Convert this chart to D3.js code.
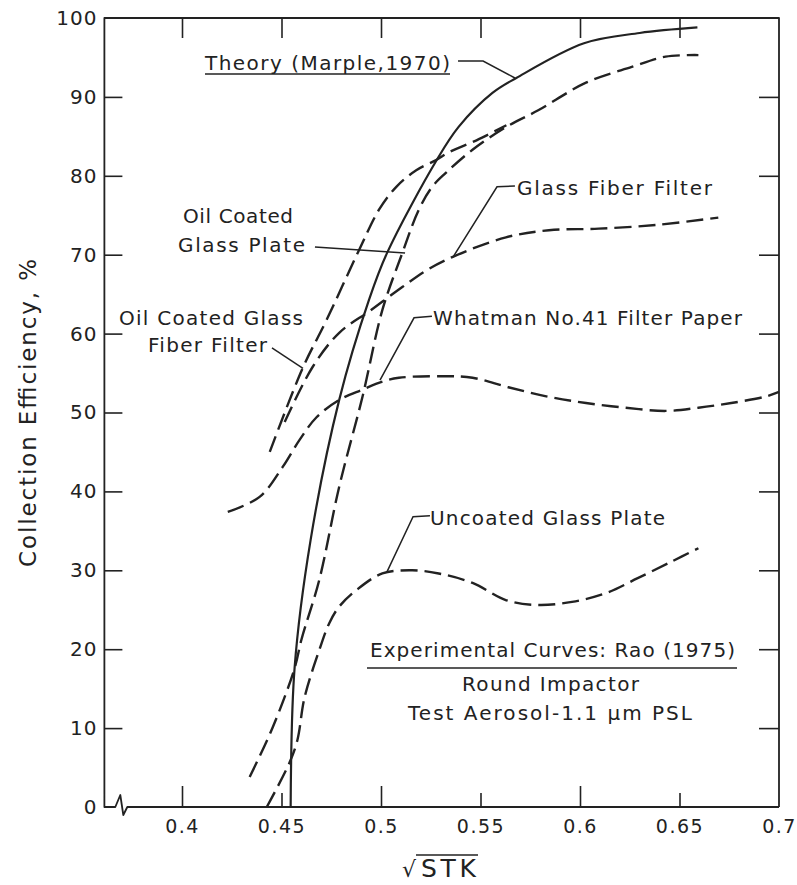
<!DOCTYPE html>
<html>
<head>
<meta charset="utf-8">
<script src="https://cdn.jsdelivr.net/npm/d3@7"></script>
<style>
  body { margin: 0; background: #fff; }
  svg { display: block; }
  text { font-family: "DejaVu Sans", sans-serif; fill: #222; }
</style>
</head>
<body>
<svg width="797" height="885"></svg>
<script>
// tick values
const X_TICKS = [0.4, 0.45, 0.5, 0.55, 0.6, 0.65, 0.7];
const Y_TICKS = [0, 10, 20, 30, 40, 50, 60, 70, 80, 90, 100];

// curves: sqrt(STK) vs collection efficiency (%)
const THEORY_X = [0.4546, 0.4566, 0.4646, 0.479, 0.494, 0.503, 0.528, 0.539, 0.556, 0.568, 0.602, 0.630, 0.659];
const THEORY_Y = [0, 17.7, 33.8, 51.6, 64.3, 70.2, 82.0, 86.2, 90.5, 92.4, 96.8, 98.1, 98.8];

const OIL_PLATE_X = [0.434, 0.4456, 0.4566, 0.460, 0.469, 0.479, 0.4907, 0.5007, 0.5107, 0.519, 0.5257, 0.5327, 0.546, 0.563, 0.579, 0.603, 0.626, 0.643, 0.6595];
const OIL_PLATE_Y = [3.8, 10.1, 17.6, 21.2, 28.8, 40.6, 52.0, 63.0, 70.2, 75.7, 78.6, 80.4, 83.3, 86.2, 88.3, 91.8, 93.8, 95.1, 95.3];

const OIL_FIBER_X = [0.4441, 0.4606, 0.4726, 0.489, 0.499, 0.5077, 0.5177, 0.5277, 0.5343, 0.548, 0.563];
const OIL_FIBER_Y = [45.0, 55.6, 61.7, 70.6, 75.7, 78.6, 80.7, 82.0, 83.0, 84.5, 86.4];

const FIBER_X = [0.4516, 0.4657, 0.479, 0.4945, 0.5107, 0.5227, 0.5358, 0.5628, 0.5844, 0.6094, 0.6395, 0.6695];
const FIBER_Y = [48.8, 55.8, 60.1, 62.9, 65.9, 68.0, 69.7, 72.2, 73.1, 73.3, 73.8, 74.7];

const WHATMAN_X = [0.423, 0.439, 0.4506, 0.459, 0.4676, 0.479, 0.4907, 0.5007, 0.509, 0.531, 0.546, 0.564, 0.584, 0.603, 0.623, 0.643, 0.6595, 0.676, 0.693, 0.700];
const WHATMAN_Y = [37.4, 39.3, 43.1, 46.5, 49.4, 51.6, 52.9, 53.9, 54.4, 54.6, 54.4, 53.2, 52.0, 51.2, 50.6, 50.2, 50.6, 51.2, 52.0, 52.6];

const UNCOATED_X = [0.4426, 0.454, 0.458, 0.4616, 0.469, 0.474, 0.479, 0.4877, 0.5007, 0.5157, 0.529, 0.546, 0.563, 0.579, 0.596, 0.613, 0.629, 0.646, 0.6595];
const UNCOATED_Y = [0, 5.6, 8.5, 13.9, 19.9, 23.3, 25.4, 27.5, 29.6, 30.0, 29.6, 28.4, 26.2, 25.6, 26.0, 27.1, 29.0, 31.1, 32.8];

// leader lines, in data units
const LEADERS = [
  [[0.5387, 94.55], [0.5513, 94.55], [0.5673, 92.4]],
  [[0.4668, 70.98], [0.5121, 70.2]],
  [[0.4452, 58.2], [0.4608, 55.6]],
  [[0.5673, 78.7], [0.5583, 78.6], [0.5362, 69.7]],
  [[0.5256, 62.2], [0.5166, 62.0], [0.4995, 54.1]],
  [[0.5246, 36.9], [0.5161, 36.8], [0.503, 29.8]]
];

const X_LEFT = 0.361;   // where the broken axis starts
const X_BREAK = 0.3695;

const svg = d3.select('svg');
const x = d3.scaleLinear().domain([0.4, 0.7]).range([182, 779]);
const y = d3.scaleLinear().domain([0, 100]).range([807, 18]);

const ink = '#222';
const fLeft = x(X_LEFT), fRight = x(0.7), fTop = y(100), fBottom = y(0);
const bx = x(X_BREAK);

// frame with the axis break
svg.append('path')
  .attr('d', `M${fRight},${fBottom} V${fTop} H${fLeft} V${fBottom} H${bx - 6}` +
             ` L${bx - 1},${fBottom - 12} L${bx + 2},${fBottom + 8} L${bx + 6},${fBottom} H${fRight}`)
  .attr('fill', 'none').attr('stroke', ink).attr('stroke-width', 1.8)
  .attr('stroke-linejoin', 'round');

function styleAxis(g, size) {
  g.select('.domain').remove();
  g.attr('font-family', '"DejaVu Sans", sans-serif').attr('font-size', size);
  g.selectAll('.tick line').attr('stroke', ink).attr('stroke-width', 1.6);
  g.selectAll('.tick text').attr('fill', ink);
}

const gB = svg.append('g').attr('transform', `translate(0,${fBottom})`)
  .call(d3.axisBottom(x).tickValues(X_TICKS).tickFormat(d => String(d))
    .tickSizeInner(-21).tickSizeOuter(0).tickPadding(13));
styleAxis(gB, 19);
gB.selectAll('.tick text').attr('letter-spacing', 1.5);
gB.selectAll('.tick line').attr('y2', (d, i) => i % 2 ? -14 : -21);
gB.selectAll('.tick line').filter(d => d === 0.7).remove();

const gT = svg.append('g').attr('transform', `translate(0,${fTop})`)
  .call(d3.axisTop(x).tickValues(X_TICKS.slice(0, -1)).tickFormat('')
    .tickSizeInner(-20).tickSizeOuter(0));
styleAxis(gT, 10);

const gL = svg.append('g').attr('transform', `translate(${fLeft},0)`)
  .call(d3.axisLeft(y).tickValues(Y_TICKS).tickSizeInner(-18).tickSizeOuter(0).tickPadding(7));
styleAxis(gL, 20);
gL.selectAll('.tick text').attr('letter-spacing', 1);
gL.selectAll('.tick line').filter(d => d === 0 || d === 100).remove();

const gR = svg.append('g').attr('transform', `translate(${fRight},0)`)
  .call(d3.axisRight(y).tickValues(Y_TICKS.slice(1, -1)).tickFormat('')
    .tickSizeInner(-20).tickSizeOuter(0));
styleAxis(gR, 10);

// curves
const line = d3.line().x(d => x(d[0])).y(d => y(d[1])).curve(d3.curveCatmullRom.alpha(0.5));
const zip = (xs, ys) => xs.map((v, i) => [v, ys[i]]);

const dashed = [
  zip(OIL_PLATE_X, OIL_PLATE_Y),
  zip(OIL_FIBER_X, OIL_FIBER_Y),
  zip(FIBER_X, FIBER_Y),
  zip(WHATMAN_X, WHATMAN_Y),
  zip(UNCOATED_X, UNCOATED_Y)
];
svg.append('g').selectAll('path').data(dashed).enter().append('path')
  .attr('d', line).attr('fill', 'none').attr('stroke', ink)
  .attr('stroke-width', 2.4).attr('stroke-dasharray', '17,7');

svg.append('path').datum(zip(THEORY_X, THEORY_Y))
  .attr('d', line).attr('fill', 'none').attr('stroke', ink).attr('stroke-width', 2.2);

// leaders
const straight = d3.line().x(d => x(d[0])).y(d => y(d[1]));
svg.append('g').selectAll('path').data(LEADERS).enter().append('path')
  .attr('d', straight).attr('fill', 'none').attr('stroke', ink).attr('stroke-width', 1.5);

// annotation texts: [text, x, baseline, width, underline]
const NOTES = [
  ['Theory (Marple,1970)', 205, 70, 245, true],
  ['Oil Coated', 183, 223, 110, false],
  ['Glass Plate', 178, 252, 127, false],
  ['Oil Coated Glass', 119, 325, 184, false],
  ['Fiber Filter', 148, 352, 119, false],
  ['Glass Fiber Filter', 517, 195, 195, false],
  ['Whatman No.41 Filter Paper', 433, 325, 309, false],
  ['Uncoated Glass Plate', 430, 525, 235, false],
  ['Experimental Curves: Rao (1975)', 370, 657, 365, false],
  ['Round Impactor', 462, 691, 177, false],
  ['Test Aerosol-1.1 \u03bcm PSL', 408, 720, 284, false]
];
const notes = svg.append('g').attr('font-size', 20);
NOTES.forEach(n => {
  notes.append('text').attr('x', n[1]).attr('y', n[2])
    .attr('textLength', n[3]).attr('lengthAdjust', 'spacing').text(n[0]);
  if (n[4]) {
    notes.append('line').attr('x1', n[1]).attr('x2', n[1] + n[3])
      .attr('y1', n[2] + 4).attr('y2', n[2] + 4).attr('stroke', ink).attr('stroke-width', 1.5);
  }
});
// rule under the experimental caption
notes.append('line').attr('x1', 367).attr('x2', 737).attr('y1', 668).attr('y2', 668)
  .attr('stroke', ink).attr('stroke-width', 1.6);

// axis titles
svg.append('text')
  .attr('transform', 'translate(36,413) rotate(-90)')
  .attr('text-anchor', 'middle').attr('font-size', 23)
  .attr('textLength', 308).attr('lengthAdjust', 'spacing')
  .text('Collection Efficiency, %');

svg.append('text').attr('x', 402).attr('y', 877).attr('font-size', 22).text('\u221a');
svg.append('text').attr('x', 421).attr('y', 877).attr('font-size', 25)
  .attr('textLength', 55).attr('lengthAdjust', 'spacing').text('STK');
svg.append('line').attr('x1', 416).attr('x2', 478).attr('y1', 855).attr('y2', 855)
  .attr('stroke', ink).attr('stroke-width', 1.6);
</script>
</body>
</html>
